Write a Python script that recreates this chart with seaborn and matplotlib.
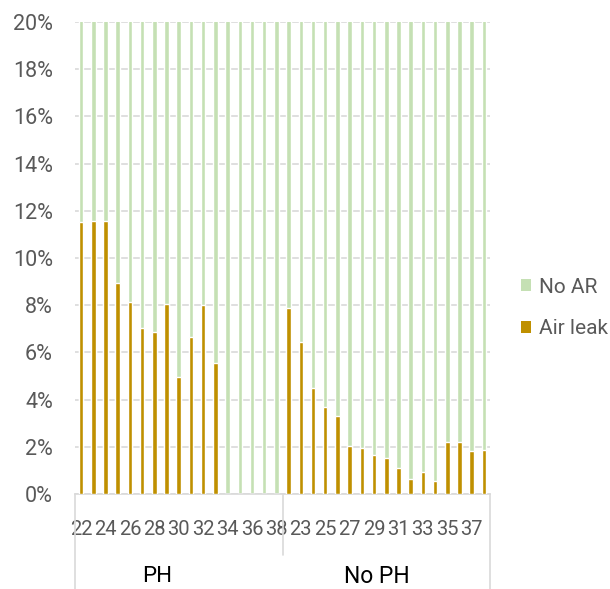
import matplotlib
matplotlib.use("Agg")
import matplotlib.pyplot as plt
from matplotlib.patches import Patch
import seaborn as sns
import pandas as pd

# Gestational weeks per group and share of infants with air leak (%)
weeks = list(range(22, 39))
ph_air_leak = [11.53, 11.57, 11.57, 8.93, 8.14, 7.03, 6.88, 8.05, 4.96,
               6.67, 7.99, 5.55, 0.0, 0.0, 0.0, 0.0, 0.0]
noph_air_leak = [7.88, 6.44, 4.50, 3.69, 3.31, 2.03, 1.96, 1.65, 1.53,
                 1.09, 0.64, 0.93, 0.54, 2.20, 2.20, 1.81, 1.86]
groups = ["PH", "No PH"]
series_names = ["No AR", "Air leak"]
y_ticks = [0, 2, 4, 6, 8, 10, 12, 14, 16, 18, 20]

GREEN = "#c5e0b4"
GOLD = "#bf9000"
TEXT = "#595959"
GRID = "#d9d9d9"

rows = []
for g, vals in zip(groups, [ph_air_leak, noph_air_leak]):
    for w, v in zip(weeks, vals):
        rows.append({"group": g, "week": w, "cat": f"{g}-{w}",
                     "air_leak": v, "no_ar": 100.0 - v})
df = pd.DataFrame(rows)
df["total"] = df["air_leak"] + df["no_ar"]
order = list(df["cat"])

sns.set_theme(style="white")
plt.rcParams["font.family"] = ["Roboto", "DejaVu Sans"]

fig = plt.figure(figsize=(6.10, 5.89), dpi=100)
ax = fig.add_axes([75 / 610, 1 - 494 / 589, 415 / 610, 472 / 589])

# stacked 100% bars: full column in green, air leak share on top in gold
sns.barplot(data=df, x="cat", y="total", order=order, color=GREEN,
            width=0.37, saturation=1, ax=ax, zorder=2)
sns.barplot(data=df, x="cat", y="air_leak", order=order, color=GOLD,
            width=0.37, saturation=1, ax=ax, zorder=3)

ax.set_ylim(0, 20)
ax.set_xlim(-0.5, len(order) - 0.5)
ax.set_yticks(y_ticks)
ax.set_yticklabels([f"{t}%" for t in y_ticks])
ax.yaxis.grid(True, color=GRID, linewidth=1.2, zorder=0)
ax.set_axisbelow(True)

labels = [str(w) if i % 2 == 0 else "" for i, w in enumerate(df["week"])]
ax.set_xticks(range(len(order)))
ax.set_xticklabels(labels)
ax.set_xlabel("")
ax.set_ylabel("")

ax.tick_params(axis="y", length=0, pad=16, labelsize=15.5, labelcolor=TEXT)
ax.tick_params(axis="x", length=0, pad=19, labelsize=14.5, labelcolor=TEXT)

for side in ["left", "right", "top"]:
    ax.spines[side].set_visible(False)
ax.spines["bottom"].set_color(GRID)
ax.spines["bottom"].set_linewidth(1.2)

# category group dividers below the axis
tr = ax.get_xaxis_transform()
n = len(weeks)
ax.plot([-0.5, -0.5], [0, -0.205], transform=tr, color=GRID, lw=1.2, clip_on=False)
ax.plot([2 * n - 0.5, 2 * n - 0.5], [0, -0.205], transform=tr, color=GRID, lw=1.2, clip_on=False)
ax.plot([n - 0.5, n - 0.5], [0, -0.129], transform=tr, color=GRID, lw=1.2, clip_on=False)

ax.text(6.2, -0.175, groups[0], transform=tr, ha="center", va="center",
        fontsize=16, color="#000000")
ax.text(24.2, -0.175, groups[1], transform=tr, ha="center", va="center",
        fontsize=16.5, color="#000000")

handles = [Patch(facecolor=GREEN, edgecolor="none"),
           Patch(facecolor=GOLD, edgecolor="none")]
fig.legend(handles, series_names, loc="center left",
           bbox_to_anchor=(521 / 610, 1 - 308 / 589), frameon=False,
           fontsize=15, labelcolor=TEXT, handlelength=0.5, handleheight=0.55,
           handletextpad=0.35, labelspacing=1.1, borderaxespad=0, borderpad=0)

fig.savefig("out.png", dpi=100)
